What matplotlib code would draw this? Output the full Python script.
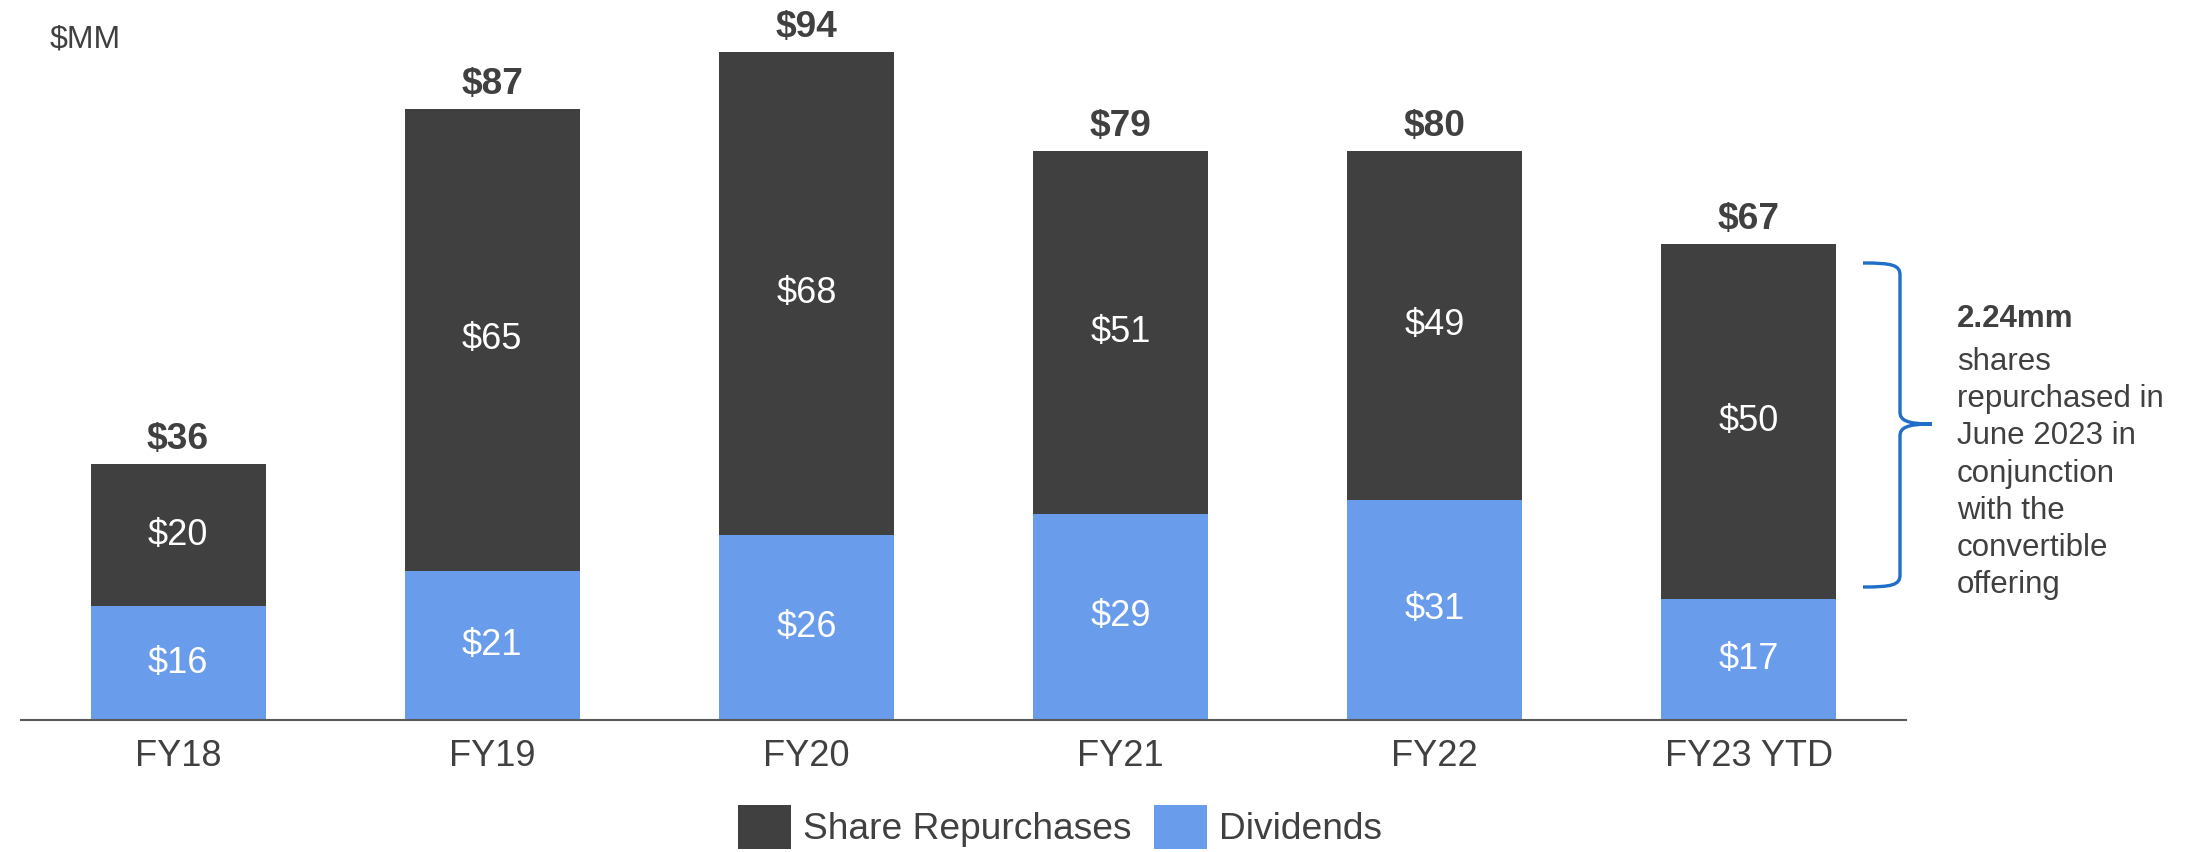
import matplotlib.pyplot as plt
from matplotlib.path import Path
from matplotlib.patches import PathPatch

plt.rcParams['font.family'] = ['Liberation Sans', 'DejaVu Sans']

# --- data ---
years = ["FY18", "FY19", "FY20", "FY21", "FY22", "FY23 YTD"]
dividends = [16, 21, 26, 29, 31, 17]
repurchases = [20, 65, 68, 51, 49, 50]
totals = [36, 87, 94, 79, 80, 67]

DARK = "#404040"
BLUE = "#699CEB"
TEXT = "#404040"
BRACE = "#1F6FC8"

fig = plt.figure(figsize=(21.94, 8.52), dpi=100)
ax = fig.add_axes([21 / 2194, 132 / 852, 1885 / 2194, 711 / 852])

x = list(range(len(years)))
w = 0.557
ax.bar(x, dividends, w, color=BLUE, label="Dividends", zorder=2)
ax.bar(x, repurchases, w, bottom=dividends, color=DARK,
       label="Share Repurchases", zorder=2)

for i in x:
    d, r, t = dividends[i], repurchases[i], totals[i]
    ax.text(i, d / 2, f"${d}", ha="center", va="center",
            color="white", fontsize=26)
    ax.text(i, d + r / 2, f"${r}", ha="center", va="center",
            color="white", fontsize=26)
    ax.annotate(f"${t}", (i, d + r), xytext=(0, 5), textcoords="offset points",
                ha="center", va="bottom", fontsize=26.7, fontweight="bold",
                color=TEXT)

ax.set_xlim(-0.5, 5.5)
ax.set_ylim(0, 100)
ax.set_xticks(x)
ax.set_xticklabels(years, fontsize=26, color=TEXT)
ax.tick_params(axis="x", length=0, pad=13.5)
ax.set_yticks([])
for s in ["top", "left", "right"]:
    ax.spines[s].set_visible(False)
ax.spines["bottom"].set_color("#595959")
ax.spines["bottom"].set_linewidth(1.5)

# legend: repurchases first
handles, labels = ax.get_legend_handles_labels()
fig.legend(handles[::-1], labels[::-1], loc="center",
           bbox_to_anchor=(1060 / 2194, 1 - 827 / 852), ncol=2, frameon=False,
           fontsize=26.7, handlelength=1.43, handleheight=1.43,
           handletextpad=0.32, columnspacing=0.59, labelcolor=TEXT,
           borderpad=0.1)

# overlay in pixel coordinates for the unit label, brace and note
ov = fig.add_axes([0, 0, 1, 1])
ov.set_xlim(0, 2194)
ov.set_ylim(852, 0)
ov.axis("off")

ov.text(50, 48, "$MM", fontsize=23, color=TEXT, va="baseline")

xl, xv, xt = 1863, 1900, 1932
yt, ym, yb = 263, 424, 587
verts = [
    (xl, yt), (xv - 8, yt), (xv, yt + 2), (xv, yt + 12),
    (xv, ym - 12),
    (xv, ym - 4), (xv + 6, ym), (xt, ym),
    (xv + 6, ym), (xv, ym + 4), (xv, ym + 12),
    (xv, yb - 12),
    (xv, yb - 2), (xv - 8, yb), (xl, yb),
]
codes = [Path.MOVETO, Path.CURVE4, Path.CURVE4, Path.CURVE4,
         Path.LINETO,
         Path.CURVE4, Path.CURVE4, Path.CURVE4,
         Path.CURVE4, Path.CURVE4, Path.CURVE4,
         Path.LINETO,
         Path.CURVE4, Path.CURVE4, Path.CURVE4]
ov.add_patch(PathPatch(Path(verts, codes), fill=False, edgecolor=BRACE, lw=2.4))

ov.text(1957, 327, "2.24mm", fontsize=22.5, fontweight="bold", color=TEXT,
        va="baseline")
# multi-line text: baseline alignment refers to the last line here
ov.text(1957, 593, "shares\nrepurchased in\nJune 2023 in\nconjunction\nwith the\nconvertible\noffering",
        fontsize=22.5, color=TEXT, va="baseline", linespacing=1.31)

fig.savefig("out.png", dpi=100)
